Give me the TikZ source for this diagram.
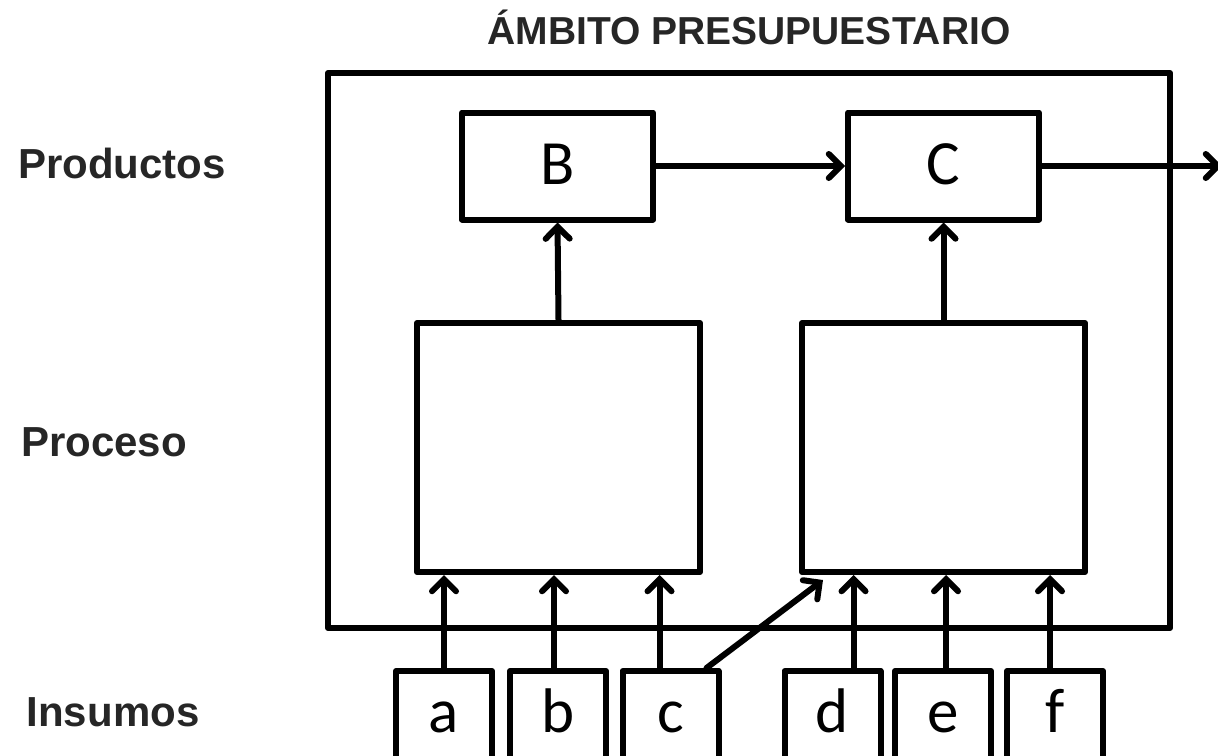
\documentclass[tikz,border=0pt]{standalone}
\usepackage{fontspec}
\setmainfont{Liberation Sans}
\newfontfamily\calib{Carlito}
\usetikzlibrary{arrows.meta}
\definecolor{lbl}{HTML}{262626}
\begin{document}
\begin{tikzpicture}[x=1pt,y=-1pt,
  box/.style={draw, line width=6pt, line join=round, inner sep=0pt, font=\calib\fontsize{63}{63}\selectfont},
  prod/.style={box, minimum width=191pt, minimum height=107pt, text height=45pt, text depth=8pt},
  proc/.style={box, minimum width=283pt, minimum height=249pt},
  inp/.style={box, minimum width=96pt, minimum height=89pt, text height=45pt, text depth=12pt},
  arr/.style={line width=6pt, line cap=round, -{Straight Barb[length=12pt,width=24pt,line cap=round]}},
  lab/.style={font=\bfseries\fontsize{42}{42}\selectfont, text=lbl, anchor=base}]
\useasboundingbox (0,0) rectangle (1218,755);
\node[font=\bfseries\fontsize{39}{39}\selectfont, text=lbl, anchor=base] (title) at (749,44) {ÁMBITO PRESUPUESTARIO};
\node[lab] (lprod) at (122,178) {Productos};
\node[lab] (lproc) at (104,456) {Proceso};
\node[lab] (linsu) at (113,726) {Insumos};
\node[box, minimum width=842pt, minimum height=555pt] (amb) at (749,350.5) {};
\node[prod] (B) at (557.5,166) {B};
\node[prod] (C) at (943.5,166) {C};
\node[proc] (P1) at (558.5,447.5) {};
\node[proc] (P2) at (943.5,447.5) {};
\node[inp] (a) at (444,715.5) {a};
\node[inp] (b) at (558,715.5) {b};
\node[inp] (c) at (670.5,715.5) {c};
\node[inp] (d) at (832.5,715.5) {d};
\node[inp] (e) at (943,715.5) {e};
\node[inp] (f) at (1055,715.5) {f};
\coordinate (out) at (1222,166);
\draw[arr] (B) -- (C);
\draw[arr] (C) -- (out);
\draw[arr] (P1.north) -- (B.south);
\draw[arr] (P2.north) -- (C.south);
\draw[arr] (a.north) -- (a.north |- P1.south);
\draw[arr] ([xshift=-4pt]b.north) -- ([xshift=-4pt]b.north |- P1.south);
\draw[arr] ([xshift=-11pt]c.north) -- ([xshift=-11pt]c.north |- P1.south);
\draw[arr] ([xshift=-15pt]c.north east) -- ([xshift=24pt,yshift=-5pt]P2.south west);
\draw[arr] ([xshift=21pt]d.north) -- ([xshift=21pt]d.north |- P2.south);
\draw[arr] ([xshift=3pt]e.north) -- ([xshift=3pt]e.north |- P2.south);
\draw[arr] ([xshift=-5pt]f.north) -- ([xshift=-5pt]f.north |- P2.south);
\end{tikzpicture}
\end{document}
